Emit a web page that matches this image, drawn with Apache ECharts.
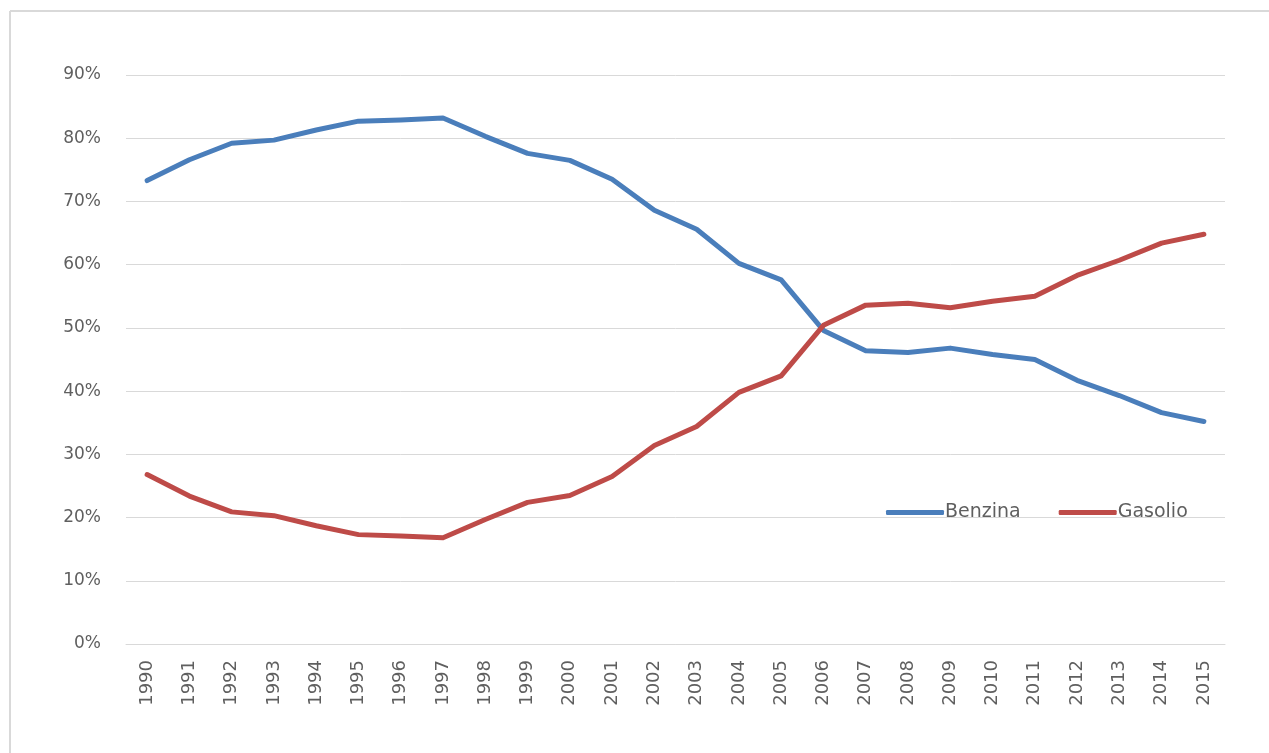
<!DOCTYPE html>
<html>
<head>
<meta charset="utf-8">
<script src="https://cdn.jsdelivr.net/npm/echarts@6/dist/echarts.min.js"></script>
<style>
  html, body { margin: 0; padding: 0; background: #ffffff; }
  #chart { width: 1269px; height: 753px; }
</style>
</head>
<body>
<div id="chart"></div>
<script>
// Fuel share of the car fleet by year (percent)
const years = ['1990','1991','1992','1993','1994','1995','1996','1997','1998','1999',
  '2000','2001','2002','2003','2004','2005','2006','2007','2008','2009',
  '2010','2011','2012','2013','2014','2015'];

const benzina = [73.3, 76.6, 79.2, 79.7, 81.3, 82.7, 82.9, 83.2, 80.3, 77.6,
  76.5, 73.5, 68.6, 65.6, 60.2, 57.6, 49.6, 46.4, 46.1, 46.8,
  45.8, 45.0, 41.7, 39.3, 36.6, 35.2];

const gasolio = [26.8, 23.4, 20.9, 20.3, 18.7, 17.3, 17.1, 16.8, 19.7, 22.4,
  23.5, 26.5, 31.4, 34.4, 39.8, 42.4, 50.4, 53.6, 53.9, 53.2,
  54.2, 55.0, 58.3, 60.7, 63.4, 64.8];

const yTicks = [0, 10, 20, 30, 40, 50, 60, 70, 80, 90];

const textColor = '#5f5f5f';
const fontFamily = '"DejaVu Sans", "Open Sans", sans-serif';

const chart = echarts.init(document.getElementById('chart'), null, { renderer: 'canvas' });

chart.setOption({
  animation: false,
  backgroundColor: '#ffffff',
  graphic: [
    // thin frame along the top and left of the chart area
    { type: 'line', shape: { x1: 10, y1: 11, x2: 1269, y2: 11 }, style: { stroke: '#d9d9d9', lineWidth: 2 } },
    { type: 'line', shape: { x1: 10, y1: 11, x2: 10, y2: 753 }, style: { stroke: '#d9d9d9', lineWidth: 2 } }
  ],
  grid: { left: 126, right: 44, top: 75, bottom: 109, containLabel: false },
  legend: {
    data: ['Benzina', 'Gasolio'],
    left: 881,
    top: 498,
    icon: 'roundRect',
    itemWidth: 58,
    itemHeight: 5,
    itemGap: 38,
    textStyle: { color: textColor, fontSize: 19, fontFamily: fontFamily, padding: [0, 0, 0, -4] }
  },
  xAxis: {
    type: 'category',
    data: years,
    boundaryGap: true,
    axisLine: { show: true, lineStyle: { color: '#d9d9d9', width: 1 } },
    axisTick: { show: false },
    axisLabel: { rotate: 90, color: textColor, fontSize: 18, fontFamily: fontFamily, margin: 16, interval: 0 },
    splitLine: { show: false }
  },
  yAxis: {
    type: 'value',
    min: yTicks[0],
    max: yTicks[yTicks.length - 1],
    interval: 10,
    axisLine: { show: false },
    axisTick: { show: false },
    axisLabel: { color: textColor, fontSize: 17, fontFamily: fontFamily, margin: 25, formatter: v => v + '%' },
    splitLine: { lineStyle: { color: '#d9d9d9', width: 1 } }
  },
  series: [
    {
      name: 'Benzina',
      type: 'line',
      data: benzina,
      symbol: 'none',
      color: '#4a7ebb',
      lineStyle: { color: '#4a7ebb', width: 5, cap: 'round', join: 'round' }
    },
    {
      name: 'Gasolio',
      type: 'line',
      data: gasolio,
      symbol: 'none',
      color: '#be4b48',
      lineStyle: { color: '#be4b48', width: 5, cap: 'round', join: 'round' }
    }
  ]
});
</script>
</body>
</html>
